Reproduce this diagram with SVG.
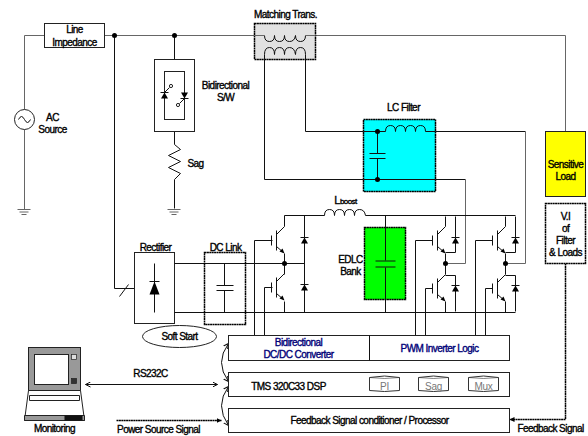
<svg xmlns="http://www.w3.org/2000/svg" width="588" height="436" viewBox="0 0 588 436">
<style>
text{font-family:"Liberation Sans",Arial,sans-serif;font-size:10px;letter-spacing:-.55px;fill:#000;stroke:#000;stroke-width:.35;text-anchor:middle}
.w{fill:none;stroke:#111;stroke-width:1}
.g{fill:none;stroke:#666;stroke-width:1}
.b{fill:#fff;stroke:#222;stroke-width:1}
.d{stroke:#000;stroke-width:1.5;stroke-dasharray:2 .4}
.blue{fill:#007;stroke:#007}
.grey{fill:#777;stroke:none;letter-spacing:-.3px}
.dot{fill:#000}
</style>
<defs>
<g id="igbt"><path class="w" d="M-13-5V5M-8-10V10M-8-6L0-14M-8 6L-1 12"/><path class="dot" d="M0 13L-5 11L-2 8Z"/></g>
<g id="dio"><path class="dot" d="M-3.500 3H3.500L0-3Z"/><path class="w" d="M-4-3H4"/></g>
<g id="gnd"><path class="g" d="M-7 0H6M-5 2.500H4M-3 5H2"/></g>
<g id="cyl"><path fill="#fff" stroke="#333" d="M0 2Q15-1 30 2V15Q15 17 0 15Z"/><path fill="none" stroke="#333" stroke-width=".6" d="M0 2Q15 4 30 2"/></g>
<marker id="arr" markerWidth="6" markerHeight="6" refX="5" refY="3" orient="auto-start-reverse" markerUnits="userSpaceOnUse"><path d="M0 .5L5 3L0 5.500" fill="none" stroke="#111"/></marker>
<marker id="fill" markerWidth="6" markerHeight="6" refX="5" refY="3" orient="auto" markerUnits="userSpaceOnUse"><path d="M0 .5L5 3L0 5.500Z" fill="#000"/></marker>
</defs>
<g id="diagram" transform="translate(.5 .5)">
<g id="connectors">
<path class="g" d="M44 35H24V109M24 129V209M104 35H254M315 35H565V131"/>
<path class="w" d="M114 35V288H134M119 296L128 284M174 35V71M174 119V144L180 149L168 155L180 161L168 167L180 173L174 179V208"/>
<path class="w" d="M264 59V179H377M305 59V131H377"/>
<path class="w" d="M425 131H525M377 179H465"/>
<path class="g" d="M465 179V263H445M525 131V263H505"/>
<path class="w" d="M174 263H284M174 312H515M284 215H324M365 215H515M284 263H304M385 215V312"/>
<path class="w" d="M284 215V226M284 253V274M284 301V312M304 215V312M445 216V226M445 253V274M445 301V312M505 216V226M505 253V274M505 301V312"/>
<path class="w" d="M455 216V252H445M455 275V311M445 275H455M515 216V252H505M515 275V311M505 275H515"/>
<path class="w" d="M272 240H254V335M272 287H264V335M432 240H415V335M432 288H425V335M492 240H475V335M492 288H485V335"/>
<path class="d" fill="none" d="M565 263V419H509" marker-end="url(#fill)"/>
<path class="w" d="M85 384H217" marker-start="url(#arr)" marker-end="url(#arr)"/>
<path class="d" d="M116 420H221" marker-end="url(#fill)"/>
<path class="w" d="M228 343Q214 362 228 381" marker-start="url(#arr)" marker-end="url(#arr)"/>
<path class="w" d="M228 386Q214 405 228 425" marker-start="url(#arr)" marker-end="url(#arr)"/>
</g>
<g id="node-line-impedance"><rect class="b" x="44" y="23" width="60" height="24"/><text x="74" y="32">Line</text><text x="74" y="45">Impedance</text></g>
<g id="node-ac-source"><circle class="b" cx="24" cy="119" r="10"/><path class="w" d="M18 119Q21 113 24 119T30 119"/><text x="52" y="120">AC</text><text x="52" y="132">Source</text><use href="#gnd" x="24" y="209"/></g>
<g id="node-junctions"><circle class="dot" cx="114" cy="35" r="2.500"/><circle class="dot" cx="174" cy="35" r="2.500"/></g>
<g id="node-bidirectional-sw">
<rect class="b" x="154" y="59" width="40" height="72"/><rect class="b" x="164" y="71" width="20" height="48"/>
<use href="#dio" x="164" y="95"/><use href="#dio" transform="rotate(180 184 95) translate(184 95)"/>
<path class="w" d="M164 92L169 87M184 98L179 103"/><circle class="b" cx="170.500" cy="85.500" r="1.600"/><circle class="b" cx="177.500" cy="104.500" r="1.600"/>
<text x="225" y="88">Bidirectional</text><text x="225" y="100">S/W</text></g>
<g id="node-sag"><text x="195" y="166">Sag</text><use href="#gnd" x="174" y="209"/></g>
<g id="node-matching-trans"><rect x="254" y="23" width="61" height="36" fill="#e2e2e2" class="d"/><path class="w" d="M264 35Q264 41 269 41T274 35Q274 41 279 41T284 35Q284 41 289 41T295 35Q295 41 300 41T305 35M264 59V54Q264 47 269 47T274 54Q274 47 279 47T284 54Q284 47 289 47T295 54Q295 47 300 47T305 54V59"/><path class="g" d="M254 35H264M305 35H315"/><text x="285" y="17">Matching Trans.</text></g>
<g id="node-lc-filter"><rect x="363" y="119" width="72" height="72" fill="#0ff" class="d"/><path class="w" d="M363 131H385M363 179H435M377 131V153M377 158V179M369 153H385M369 158H385M425 131H435"/><path class="w" d="M385 131Q385 125 390 125T395 131Q395 125 400 125T405 131Q405 125 410 125T415 131Q415 125 420 125T425 131"/><circle class="dot" cx="377" cy="131" r="2.500"/><circle class="dot" cx="377" cy="179" r="2.500"/><text x="403" y="110">LC Filter</text></g>
<g id="node-sensitive-load"><rect x="545" y="131" width="40" height="65" fill="#ff0" stroke="#222"/><text x="565" y="167">Sensitive</text><text x="565" y="179">Load</text></g>
<g id="node-vi"><rect x="545" y="203" width="40" height="60" fill="#fff" class="d"/><text x="565" y="219">V.I</text><text x="565" y="231">of</text><text x="565" y="243">Filter</text><text x="565" y="255">&amp; Loads</text></g>
<g id="node-rectifier"><rect class="b" x="134" y="252" width="40" height="71"/><path class="w" d="M154 263V312M149 281H159"/><path class="dot" d="M154 281L149 294H159Z"/><path class="w" d="M174 263H180M174 312H180"/><text x="155" y="250">Rectifier</text></g>
<g id="node-dc-link"><rect x="204" y="252" width="41" height="72" fill="none" class="d"/><path class="w" d="M224 263V285M224 290V312M216 285H233M216 290H233"/><text x="225" y="250">DC Link</text></g>
<g id="node-soft-start"><ellipse class="b" cx="179" cy="336" rx="37" ry="11"/><text x="179" y="339">Soft Start</text></g>
<g id="node-boost-leg"><use href="#igbt" x="284" y="240"/><use href="#igbt" x="284" y="287"/><use href="#dio" x="304" y="240"/><use href="#dio" x="304" y="287"/><circle class="dot" cx="284" cy="263" r="2.500"/></g>
<g id="node-lboost"><path class="w" d="M324 215Q324 209 329 209T334 215Q334 209 339 209T344 215Q344 209 349 209T354 215Q354 209 359 209T365 215"/><text x="345" y="203" style="font-size:11px">L<tspan style="font-size:8px">boost</tspan></text></g>
<g id="node-edlc"><rect x="364" y="227" width="41" height="72" fill="#0f0" class="d"/><path stroke="#111" d="M385 227V260M385 267V299M375 260.500H395M375 266.500H395"/><text x="350" y="262">EDLC</text><text x="350" y="274">Bank</text></g>
<g id="node-inverter-leg-1"><use href="#igbt" x="445" y="240"/><use href="#igbt" x="445" y="288"/><use href="#dio" x="455" y="240"/><use href="#dio" x="455" y="288"/><circle class="dot" cx="445" cy="263" r="2.500"/></g>
<g id="node-inverter-leg-2"><use href="#igbt" x="505" y="240"/><use href="#igbt" x="505" y="288"/><use href="#dio" x="515" y="240"/><use href="#dio" x="515" y="288"/><circle class="dot" cx="505" cy="263" r="2.500"/></g>
<g id="node-converter-logic"><rect class="b" x="228" y="335" width="281" height="25"/><path class="w" d="M369 335V360"/><text class="blue" x="298" y="345">Bidirectional</text><text class="blue" x="298" y="357">DC/DC Converter</text><text class="blue" x="439" y="351">PWM Inverter Logic</text></g>
<g id="node-dsp"><rect class="b" x="228" y="372" width="281" height="24"/><text x="288" y="389">TMS 320C33 DSP</text>
<use href="#cyl" x="369" y="375"/><use href="#cyl" x="418" y="375"/><use href="#cyl" x="468" y="375"/><text class="grey" x="384" y="389">PI</text><text class="grey" x="433" y="389">Sag</text><text class="grey" x="483" y="389">Mux</text></g>
<g id="node-feedback"><rect class="b" x="228" y="408" width="281" height="24"/><text x="369" y="423">Feedback Signal conditioner / Processor</text></g>
<g id="node-monitoring">
<rect x="28" y="347" width="52" height="43" fill="#999" stroke="#222"/><rect x="34" y="354" width="34" height="30" fill="#fff" stroke="#222"/><rect x="71" y="354" width="5" height="5" fill="#ddd" stroke="#222" stroke-width=".7"/><rect x="71" y="378" width="5" height="5" fill="#333" stroke="#222" stroke-width=".7"/>
<path d="M28 390H80L84 420H24Z" fill="#fff" stroke="#222"/><path d="M29 395H79V400H29Z" fill="#fff" stroke="#222"/><path d="M24 415H84V420H24Z" fill="#999" stroke="#222"/><rect x="64" y="415" width="18" height="5" fill="#111"/>
<text x="54" y="431">Monitoring</text></g>
<g id="labels"><text x="150" y="376">RS232C</text><text x="158" y="432">Power Source Signal</text><text x="550" y="431">Feedback Signal</text></g>
</g>
</svg>
